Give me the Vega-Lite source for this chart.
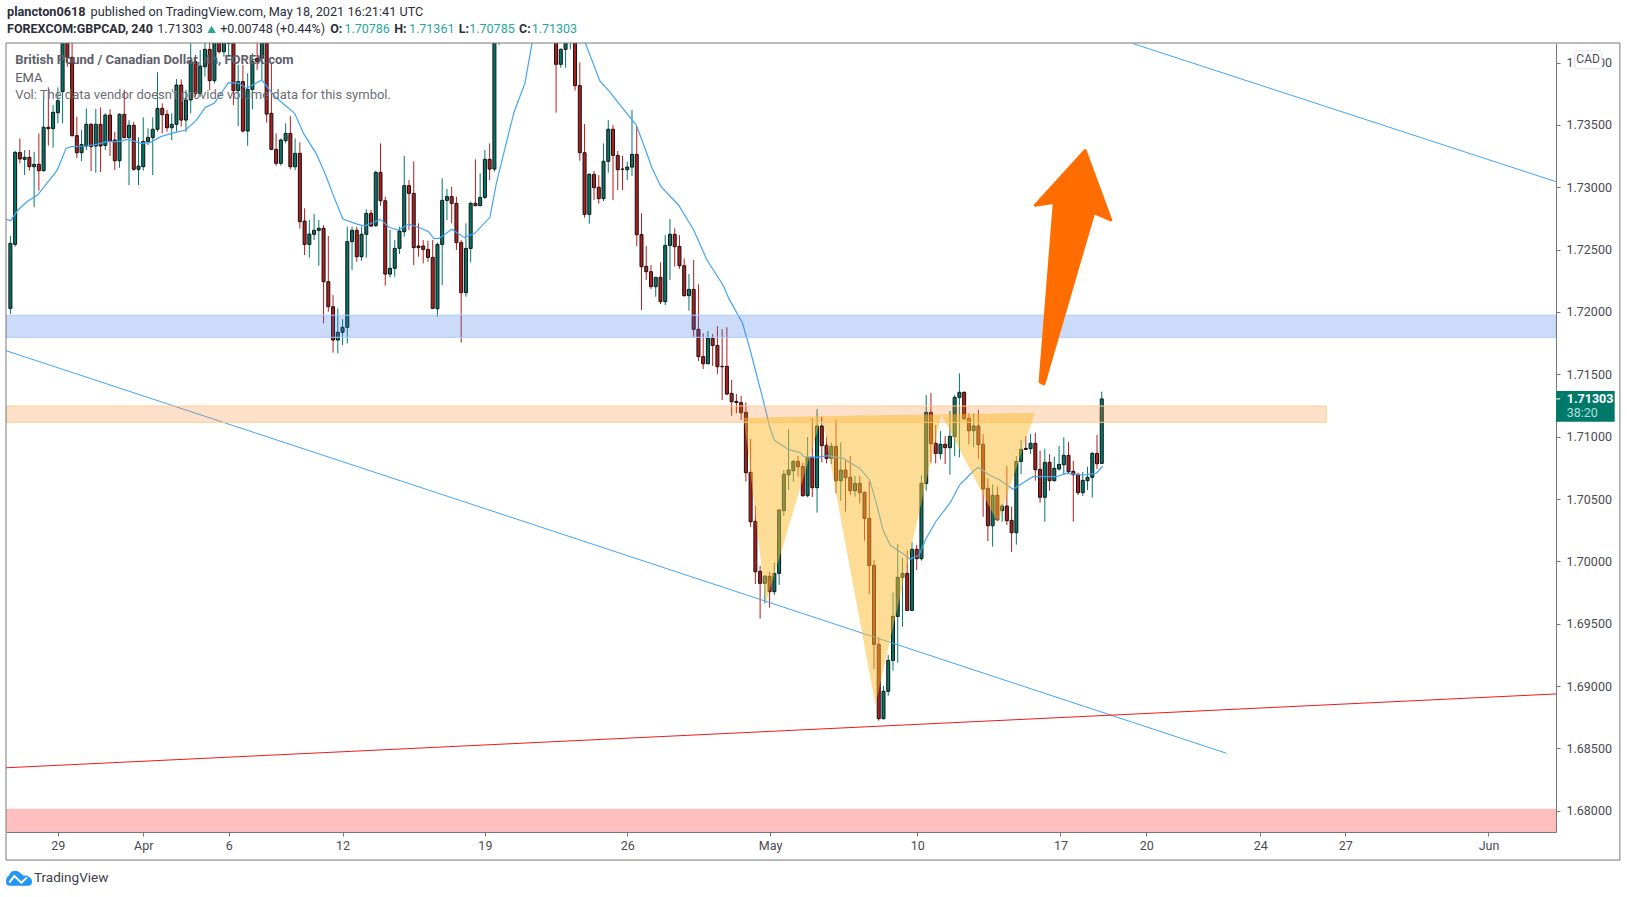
{"$schema":"https://vega.github.io/schema/vega-lite/v6.json","width":1550,"height":789,"autosize":{"type":"none"},"padding":{"left":6,"top":43,"right":71,"bottom":65},"background":"white","config":{"view":{"stroke":null},"text":{"font":"Roboto"}},
"datasets":{
"candles":[
{"t":0,"o":1.72029,"h":1.72609,"l":1.71984,"c":1.7255},{"t":1,"o":1.72542,"h":1.73293,"l":1.72524,"c":1.7328},{"t":2,"o":1.7328,"h":1.73392,"l":1.73192,"c":1.73227},{"t":3,"o":1.73224,"h":1.73299,"l":1.73098,"c":1.7324},{"t":4,"o":1.7324,"h":1.73299,"l":1.73133,"c":1.73165},{"t":5,"o":1.73165,"h":1.73285,"l":1.72839,"c":1.73184},{"t":6,"o":1.73184,"h":1.73432,"l":1.72973,"c":1.73133},{"t":7,"o":1.73133,"h":1.73713,"l":1.73125,"c":1.73481},{"t":8,"o":1.73481,"h":1.73801,"l":1.73334,"c":1.7347},{"t":9,"o":1.7347,"h":1.7366,"l":1.73317,"c":1.73601},
{"t":10,"o":1.73598,"h":1.73801,"l":1.73513,"c":1.73694},{"t":11,"o":1.73767,"h":1.7435,"l":1.73513,"c":1.7425},{"t":12,"o":1.7425,"h":1.744,"l":1.73967,"c":1.74042},{"t":13,"o":1.74042,"h":1.7425,"l":1.73406,"c":1.73414},{"t":14,"o":1.73414,"h":1.73566,"l":1.73235,"c":1.73277},{"t":15,"o":1.73277,"h":1.73459,"l":1.73211,"c":1.73342},{"t":16,"o":1.73331,"h":1.73633,"l":1.73299,"c":1.73505},{"t":17,"o":1.73505,"h":1.73513,"l":1.7313,"c":1.73326},{"t":18,"o":1.73331,"h":1.73628,"l":1.73117,"c":1.73505},{"t":19,"o":1.73505,"h":1.73641,"l":1.73122,"c":1.73331},
{"t":20,"o":1.73336,"h":1.73593,"l":1.73299,"c":1.73579},{"t":21,"o":1.73579,"h":1.73625,"l":1.73251,"c":1.73368},{"t":22,"o":1.73379,"h":1.73446,"l":1.73138,"c":1.73213},{"t":23,"o":1.73213,"h":1.73593,"l":1.73157,"c":1.73585},{"t":24,"o":1.73585,"h":1.7378,"l":1.73392,"c":1.73398},{"t":25,"o":1.73398,"h":1.73539,"l":1.73018,"c":1.73497},{"t":26,"o":1.73497,"h":1.73526,"l":1.73133,"c":1.73144},{"t":27,"o":1.73144,"h":1.734,"l":1.73018,"c":1.7317},{"t":28,"o":1.73165,"h":1.73561,"l":1.73133,"c":1.73368},{"t":29,"o":1.73368,"h":1.73473,"l":1.73339,"c":1.734},
{"t":30,"o":1.73398,"h":1.73561,"l":1.73098,"c":1.73465},{"t":31,"o":1.73465,"h":1.73922,"l":1.73446,"c":1.73633},{"t":32,"o":1.73633,"h":1.73673,"l":1.73432,"c":1.73582},{"t":33,"o":1.73585,"h":1.7362,"l":1.73446,"c":1.73478},{"t":34,"o":1.73478,"h":1.73593,"l":1.73379,"c":1.73505},{"t":35,"o":1.73505,"h":1.73868,"l":1.73446,"c":1.7382},{"t":36,"o":1.7382,"h":1.73865,"l":1.73486,"c":1.73539},{"t":37,"o":1.73539,"h":1.7378,"l":1.73446,"c":1.737},{"t":38,"o":1.737,"h":1.74154,"l":1.73593,"c":1.74007},{"t":39,"o":1.74007,"h":1.74061,"l":1.73726,"c":1.73753},
{"t":40,"o":1.73753,"h":1.74101,"l":1.73726,"c":1.73972},{"t":41,"o":1.73967,"h":1.742,"l":1.73887,"c":1.74106},{"t":42,"o":1.74106,"h":1.742,"l":1.7378,"c":1.73855},{"t":43,"o":1.73855,"h":1.743,"l":1.73833,"c":1.7423},{"t":44,"o":1.7423,"h":1.7432,"l":1.74074,"c":1.74087},{"t":45,"o":1.74087,"h":1.743,"l":1.74047,"c":1.7423},{"t":46,"o":1.74154,"h":1.743,"l":1.74047,"c":1.7423},{"t":47,"o":1.7423,"h":1.743,"l":1.7366,"c":1.73775},{"t":48,"o":1.73775,"h":1.7398,"l":1.73491,"c":1.73847},{"t":49,"o":1.73847,"h":1.7398,"l":1.73438,"c":1.73451},
{"t":50,"o":1.73451,"h":1.73914,"l":1.73334,"c":1.73785},{"t":51,"o":1.73785,"h":1.74074,"l":1.73625,"c":1.74007},{"t":52,"o":1.74034,"h":1.7416,"l":1.7394,"c":1.74007},{"t":53,"o":1.74034,"h":1.743,"l":1.7386,"c":1.7423},{"t":54,"o":1.7423,"h":1.743,"l":1.73518,"c":1.73587},{"t":55,"o":1.73593,"h":1.73994,"l":1.73299,"c":1.73304},{"t":56,"o":1.73304,"h":1.73432,"l":1.73173,"c":1.73192},{"t":57,"o":1.73192,"h":1.73392,"l":1.73173,"c":1.73379},{"t":58,"o":1.73374,"h":1.73513,"l":1.73352,"c":1.73432},{"t":59,"o":1.73432,"h":1.73571,"l":1.73144,"c":1.73165},
{"t":60,"o":1.73165,"h":1.73392,"l":1.73138,"c":1.73272},{"t":61,"o":1.73272,"h":1.7336,"l":1.72668,"c":1.72724},{"t":62,"o":1.72729,"h":1.72831,"l":1.72457,"c":1.72542},{"t":63,"o":1.72542,"h":1.72737,"l":1.72435,"c":1.72625},{"t":64,"o":1.72623,"h":1.72786,"l":1.72577,"c":1.72655},{"t":65,"o":1.72655,"h":1.72737,"l":1.72371,"c":1.72671},{"t":66,"o":1.72671,"h":1.72697,"l":1.71909,"c":1.72243},{"t":67,"o":1.72243,"h":1.72609,"l":1.72002,"c":1.72042},{"t":68,"o":1.72042,"h":1.72136,"l":1.71674,"c":1.71775},{"t":69,"o":1.71775,"h":1.72029,"l":1.71668,"c":1.71837},
{"t":70,"o":1.71837,"h":1.71941,"l":1.71735,"c":1.71877},{"t":71,"o":1.71877,"h":1.72684,"l":1.71748,"c":1.72564},{"t":72,"o":1.72564,"h":1.72684,"l":1.72337,"c":1.72655},{"t":73,"o":1.72655,"h":1.72684,"l":1.72403,"c":1.72443},{"t":74,"o":1.72443,"h":1.72684,"l":1.72411,"c":1.72623},{"t":75,"o":1.72623,"h":1.72823,"l":1.72435,"c":1.72791},{"t":76,"o":1.72791,"h":1.72818,"l":1.72679,"c":1.72689},{"t":77,"o":1.72692,"h":1.73133,"l":1.72684,"c":1.7312},{"t":78,"o":1.7312,"h":1.73352,"l":1.72852,"c":1.72892},{"t":79,"o":1.72892,"h":1.72925,"l":1.72211,"c":1.72304},
{"t":80,"o":1.72304,"h":1.72657,"l":1.72278,"c":1.7235},{"t":81,"o":1.7235,"h":1.72577,"l":1.72283,"c":1.7251},{"t":82,"o":1.7251,"h":1.72684,"l":1.72465,"c":1.72649},{"t":83,"o":1.72644,"h":1.73251,"l":1.72604,"c":1.73013},{"t":84,"o":1.73013,"h":1.73058,"l":1.72657,"c":1.72951},{"t":85,"o":1.72951,"h":1.73208,"l":1.72377,"c":1.72516},{"t":86,"o":1.72529,"h":1.72711,"l":1.72443,"c":1.72516},{"t":87,"o":1.72529,"h":1.72577,"l":1.7239,"c":1.72502},{"t":88,"o":1.72502,"h":1.72572,"l":1.72403,"c":1.72438},{"t":89,"o":1.72438,"h":1.72577,"l":1.72026,"c":1.72029},
{"t":90,"o":1.72026,"h":1.72555,"l":1.71962,"c":1.72542},{"t":91,"o":1.72542,"h":1.73072,"l":1.72216,"c":1.72895},{"t":92,"o":1.72895,"h":1.72986,"l":1.72737,"c":1.72925},{"t":93,"o":1.72925,"h":1.73005,"l":1.72711,"c":1.72871},{"t":94,"o":1.72871,"h":1.72925,"l":1.72497,"c":1.72556},{"t":95,"o":1.72556,"h":1.72577,"l":1.71754,"c":1.72155},{"t":96,"o":1.72155,"h":1.72711,"l":1.72123,"c":1.7251},{"t":97,"o":1.7251,"h":1.72884,"l":1.72398,"c":1.72871},{"t":98,"o":1.72871,"h":1.73224,"l":1.7285,"c":1.72852},{"t":99,"o":1.72852,"h":1.73112,"l":1.7285,"c":1.72919},
{"t":100,"o":1.72919,"h":1.73299,"l":1.72906,"c":1.73224},{"t":101,"o":1.73224,"h":1.73352,"l":1.73058,"c":1.73146},{"t":102,"o":1.73146,"h":1.746,"l":1.73125,"c":1.745},{"t":103,"o":1.745,"h":1.747,"l":1.74143,"c":1.7465},
{"t":115,"o":1.7425,"h":1.7435,"l":1.73598,"c":1.73986},{"t":116,"o":1.73986,"h":1.74114,"l":1.73959,"c":1.74106},{"t":117,"o":1.74106,"h":1.743,"l":1.73959,"c":1.7425},{"t":118,"o":1.742,"h":1.744,"l":1.74106,"c":1.7435},{"t":119,"o":1.743,"h":1.744,"l":1.73775,"c":1.73815},
{"t":120,"o":1.73815,"h":1.74002,"l":1.73213,"c":1.73277},{"t":121,"o":1.73277,"h":1.73507,"l":1.72756,"c":1.72783},{"t":122,"o":1.72783,"h":1.73112,"l":1.72708,"c":1.73104},{"t":123,"o":1.73104,"h":1.7313,"l":1.72898,"c":1.72997},{"t":124,"o":1.73,"h":1.73098,"l":1.72868,"c":1.72909},{"t":125,"o":1.72909,"h":1.73352,"l":1.7289,"c":1.73208},{"t":126,"o":1.73208,"h":1.73539,"l":1.73117,"c":1.73465},{"t":127,"o":1.73465,"h":1.73499,"l":1.72898,"c":1.73256},{"t":128,"o":1.73256,"h":1.73291,"l":1.72978,"c":1.73141},{"t":129,"o":1.73146,"h":1.73251,"l":1.72978,"c":1.73144},
{"t":130,"o":1.73141,"h":1.73205,"l":1.73058,"c":1.73162},{"t":131,"o":1.73162,"h":1.7362,"l":1.7309,"c":1.73264},{"t":132,"o":1.73264,"h":1.73491,"l":1.72529,"c":1.7262},{"t":133,"o":1.7262,"h":1.72791,"l":1.72016,"c":1.72363},{"t":134,"o":1.72366,"h":1.72529,"l":1.72256,"c":1.72323},{"t":135,"o":1.72323,"h":1.72377,"l":1.72184,"c":1.72203},{"t":136,"o":1.72203,"h":1.72278,"l":1.72123,"c":1.72278},{"t":137,"o":1.72278,"h":1.72398,"l":1.72064,"c":1.72083},{"t":138,"o":1.72083,"h":1.72617,"l":1.72056,"c":1.72534},{"t":139,"o":1.72534,"h":1.72745,"l":1.72256,"c":1.72623},
{"t":140,"o":1.72623,"h":1.72671,"l":1.72363,"c":1.72524},{"t":141,"o":1.72526,"h":1.72617,"l":1.72345,"c":1.72371},{"t":142,"o":1.72371,"h":1.7243,"l":1.72123,"c":1.72131},{"t":143,"o":1.72131,"h":1.72304,"l":1.7201,"c":1.72181},{"t":144,"o":1.72181,"h":1.72417,"l":1.71802,"c":1.71861},{"t":145,"o":1.71861,"h":1.72222,"l":1.71607,"c":1.71642},{"t":146,"o":1.71642,"h":1.71829,"l":1.71543,"c":1.71585},{"t":147,"o":1.71585,"h":1.71847,"l":1.71583,"c":1.71789},{"t":148,"o":1.71789,"h":1.71823,"l":1.71567,"c":1.71732},{"t":149,"o":1.71732,"h":1.71887,"l":1.71503,"c":1.71561},
{"t":150,"o":1.71564,"h":1.71863,"l":1.71294,"c":1.71561},{"t":151,"o":1.71564,"h":1.71877,"l":1.71334,"c":1.71342},{"t":152,"o":1.71347,"h":1.71454,"l":1.71168,"c":1.71281},{"t":153,"o":1.71283,"h":1.71342,"l":1.71187,"c":1.71273},{"t":154,"o":1.71273,"h":1.71326,"l":1.71134,"c":1.71192},{"t":155,"o":1.71195,"h":1.71275,"l":1.70639,"c":1.70711},{"t":156,"o":1.70714,"h":1.70981,"l":1.70278,"c":1.70318},{"t":157,"o":1.70321,"h":1.70444,"l":1.69819,"c":1.69917},{"t":158,"o":1.6992,"h":1.69966,"l":1.69541,"c":1.69824},{"t":159,"o":1.69824,"h":1.69883,"l":1.69663,"c":1.69883},
{"t":160,"o":1.6988,"h":1.69917,"l":1.69629,"c":1.69757},{"t":161,"o":1.69757,"h":1.69992,"l":1.6973,"c":1.69904},{"t":162,"o":1.69904,"h":1.70417,"l":1.69811,"c":1.70412},{"t":163,"o":1.70407,"h":1.70733,"l":1.70366,"c":1.70698},{"t":164,"o":1.70695,"h":1.71059,"l":1.70572,"c":1.70733},{"t":165,"o":1.70727,"h":1.70813,"l":1.70639,"c":1.70802},{"t":166,"o":1.70802,"h":1.70845,"l":1.70679,"c":1.70759},{"t":167,"o":1.70762,"h":1.70792,"l":1.70519,"c":1.70527},{"t":168,"o":1.70527,"h":1.70997,"l":1.70514,"c":1.70834},{"t":169,"o":1.70834,"h":1.71147,"l":1.70516,"c":1.70591},
{"t":170,"o":1.70591,"h":1.71222,"l":1.70391,"c":1.71086},{"t":171,"o":1.71086,"h":1.7116,"l":1.70794,"c":1.70928},{"t":172,"o":1.70931,"h":1.71,"l":1.70786,"c":1.70826},{"t":173,"o":1.70826,"h":1.70955,"l":1.70781,"c":1.70922},{"t":174,"o":1.70922,"h":1.71134,"l":1.70546,"c":1.70647},{"t":175,"o":1.70647,"h":1.70955,"l":1.70487,"c":1.70733},{"t":176,"o":1.70733,"h":1.70818,"l":1.70399,"c":1.70671},{"t":177,"o":1.70674,"h":1.70845,"l":1.70532,"c":1.70567},{"t":178,"o":1.70567,"h":1.70685,"l":1.70519,"c":1.70626},{"t":179,"o":1.70626,"h":1.70685,"l":1.70465,"c":1.70551},
{"t":180,"o":1.70554,"h":1.70559,"l":1.70166,"c":1.70345},{"t":181,"o":1.70345,"h":1.70639,"l":1.69738,"c":1.69966},{"t":182,"o":1.69968,"h":1.70011,"l":1.69137,"c":1.69335},{"t":183,"o":1.69335,"h":1.69391,"l":1.68723,"c":1.68739},{"t":184,"o":1.68739,"h":1.69001,"l":1.68733,"c":1.68958},{"t":185,"o":1.68958,"h":1.69249,"l":1.68923,"c":1.69206},{"t":186,"o":1.69206,"h":1.69752,"l":1.69124,"c":1.69559},{"t":187,"o":1.69559,"h":1.70139,"l":1.69188,"c":1.69872},{"t":188,"o":1.69872,"h":1.70027,"l":1.69476,"c":1.69904},{"t":189,"o":1.69904,"h":1.70088,"l":1.69605,"c":1.69607},
{"t":190,"o":1.69607,"h":1.70153,"l":1.69605,"c":1.70097},{"t":191,"o":1.70097,"h":1.70131,"l":1.69931,"c":1.70022},{"t":192,"o":1.70022,"h":1.7069,"l":1.70006,"c":1.70626},{"t":193,"o":1.70626,"h":1.71334,"l":1.70567,"c":1.71195},{"t":194,"o":1.71195,"h":1.7135,"l":1.70792,"c":1.70944},{"t":195,"o":1.70947,"h":1.71094,"l":1.70786,"c":1.70866},{"t":196,"o":1.70864,"h":1.71045,"l":1.70818,"c":1.70939},{"t":197,"o":1.70939,"h":1.71005,"l":1.70781,"c":1.70912},{"t":198,"o":1.70912,"h":1.71206,"l":1.70695,"c":1.71003},{"t":199,"o":1.71,"h":1.71334,"l":1.70845,"c":1.71315},
{"t":200,"o":1.71315,"h":1.71508,"l":1.70834,"c":1.71356},{"t":201,"o":1.71356,"h":1.71361,"l":1.71134,"c":1.71144},{"t":202,"o":1.71147,"h":1.71187,"l":1.70941,"c":1.71048},{"t":203,"o":1.71048,"h":1.71187,"l":1.70914,"c":1.71086},{"t":204,"o":1.71086,"h":1.71214,"l":1.70824,"c":1.70936},{"t":205,"o":1.70939,"h":1.71021,"l":1.70358,"c":1.7058},{"t":206,"o":1.70586,"h":1.70666,"l":1.70163,"c":1.70286},{"t":207,"o":1.70286,"h":1.70618,"l":1.70118,"c":1.7053},{"t":208,"o":1.7053,"h":1.70599,"l":1.70326,"c":1.70332},{"t":209,"o":1.70407,"h":1.7046,"l":1.70318,"c":1.70444},
{"t":210,"o":1.70444,"h":1.70765,"l":1.70292,"c":1.70326},{"t":211,"o":1.70329,"h":1.70439,"l":1.70075,"c":1.7023},{"t":212,"o":1.7023,"h":1.70845,"l":1.70134,"c":1.70802},{"t":213,"o":1.70802,"h":1.70973,"l":1.70701,"c":1.70898},{"t":214,"o":1.70906,"h":1.71005,"l":1.70898,"c":1.70898},{"t":215,"o":1.70904,"h":1.71021,"l":1.70861,"c":1.70947},{"t":216,"o":1.70947,"h":1.71032,"l":1.70647,"c":1.70735},{"t":217,"o":1.70738,"h":1.70888,"l":1.70471,"c":1.70514},{"t":218,"o":1.70514,"h":1.70904,"l":1.70318,"c":1.70794},{"t":219,"o":1.70794,"h":1.70861,"l":1.70567,"c":1.70647},
{"t":220,"o":1.70647,"h":1.7084,"l":1.70642,"c":1.70746},{"t":221,"o":1.70741,"h":1.70925,"l":1.70727,"c":1.70778},{"t":222,"o":1.70775,"h":1.70995,"l":1.70693,"c":1.7085},{"t":223,"o":1.7085,"h":1.70957,"l":1.70706,"c":1.70719},{"t":224,"o":1.70722,"h":1.70805,"l":1.70318,"c":1.70695},{"t":225,"o":1.70698,"h":1.70711,"l":1.70532,"c":1.70551},{"t":226,"o":1.70551,"h":1.70717,"l":1.70524,"c":1.7065},{"t":227,"o":1.70647,"h":1.70759,"l":1.70572,"c":1.70674},{"t":228,"o":1.70674,"h":1.7088,"l":1.70511,"c":1.70866},{"t":229,"o":1.70866,"h":1.71013,"l":1.70741,"c":1.70783},{"t":230,"o":1.70786,"h":1.71361,"l":1.70785,"c":1.71303}
],
"ema":[
{"t":-0.83,"p":1.72743},{"t":0.08,"p":1.72732},{"t":1.58,"p":1.72818},{"t":3.46,"p":1.72884},{"t":5.72,"p":1.72938},{"t":7.98,"p":1.73045},{"t":9.86,"p":1.73138},{"t":11.74,"p":1.73312},{"t":12.87,"p":1.73326},{"t":15.88,"p":1.73331},{"t":18.13,"p":1.73344},{"t":20.39,"p":1.73366},{"t":22.65,"p":1.73366},{"t":24.9,"p":1.73384},{"t":27.54,"p":1.73352},{"t":29.42,"p":1.73358},{"t":31.68,"p":1.73406},{"t":33.94,"p":1.73432},{"t":36.95,"p":1.73459},{"t":39.2,"p":1.73539},{"t":41.08,"p":1.73641},{"t":42.96,"p":1.73673},{"t":45.97,"p":1.73839},{"t":48.23,"p":1.73833},{"t":49.74,"p":1.73793},{"t":52.97,"p":1.7386},{"t":55.76,"p":1.73726},{"t":59.9,"p":1.73593},{"t":61.78,"p":1.73432},{"t":64.41,"p":1.73272},{"t":66.29,"p":1.73112},{"t":68.17,"p":1.72925},{"t":70.05,"p":1.72745},{"t":73.06,"p":1.72705},{"t":74.57,"p":1.72689},{"t":76.82,"p":1.72724},{"t":77.95,"p":1.72743},{"t":79.83,"p":1.72679},{"t":81.72,"p":1.72657},{"t":83.97,"p":1.72705},{"t":86.23,"p":1.72676},{"t":88.11,"p":1.72644},{"t":89.24,"p":1.72588},{"t":90.37,"p":1.7259},{"t":93,"p":1.72663},{"t":95.64,"p":1.72598},{"t":97.89,"p":1.72631},{"t":101.05,"p":1.72759},{"t":102.41,"p":1.73031},{"t":104.66,"p":1.73379},{"t":106.17,"p":1.73606},{"t":108.43,"p":1.73833},{"t":109.93,"p":1.74154},{"t":113,"p":1.747},{"t":118,"p":1.747},{"t":121.2,"p":1.74154},{"t":124.2,"p":1.73855},{"t":126.1,"p":1.73775},{"t":130.2,"p":1.73579},{"t":131.9,"p":1.73499},{"t":134,"p":1.73285},{"t":135.1,"p":1.73165},{"t":137.1,"p":1.73005},{"t":140.8,"p":1.72858},{"t":144,"p":1.72657},{"t":146.8,"p":1.72417},{"t":150.3,"p":1.72208},{"t":151.4,"p":1.72109},{"t":154.3,"p":1.71909},{"t":155.9,"p":1.71695},{"t":159,"p":1.71241},{"t":160,"p":1.7108},{"t":161,"p":1.70973},{"t":163.9,"p":1.70898},{"t":166.4,"p":1.70872},{"t":167.2,"p":1.7084},{"t":169.9,"p":1.70834},{"t":172.3,"p":1.70848},{"t":175.5,"p":1.70826},{"t":179,"p":1.70746},{"t":181.1,"p":1.70653},{"t":182.5,"p":1.70465},{"t":183.9,"p":1.70252},{"t":185.4,"p":1.70131},{"t":188.2,"p":1.70059},{"t":189.6,"p":1.70019},{"t":191.5,"p":1.70051},{"t":193,"p":1.70185},{"t":195,"p":1.70318},{"t":198.2,"p":1.70479},{"t":200,"p":1.70612},{"t":202.8,"p":1.70719},{"t":204,"p":1.70754},{"t":206.3,"p":1.70693},{"t":208.5,"p":1.70653},{"t":211.3,"p":1.70578},{"t":212.7,"p":1.70612},{"t":215.5,"p":1.70679},{"t":216.6,"p":1.70679},{"t":220.4,"p":1.70679},{"t":222.5,"p":1.70706},{"t":226,"p":1.70693},{"t":228.8,"p":1.70706},{"t":230.2,"p":1.70765}
],
"zones":[{"name":"blue","t1":-0.927,"t2":325.73,"p1":1.71974,"p2":1.71797},{"name":"orange","t1":-0.927,"t2":277.3,"p1":1.71246,"p2":1.71115},{"name":"pink","t1":-0.927,"t2":325.73,"p1":1.68012,"p2":1.6783}],
"blueLines":[{"line":"upper","t":236.6,"p":1.74152},{"line":"upper","t":325.73,"p":1.73045},{"line":"lower","t":-0.93,"p":1.7169},{"line":"lower","t":256.3,"p":1.68461}],
"redLine":[{"t":-0.93,"p":1.68345},{"t":325.73,"p":1.68937}],
"pattern":[{"t":154.6,"low":1.71152,"neck":1.71152},{"t":159.2,"low":1.69666,"neck":1.71155},{"t":171,"low":1.71163,"neck":1.71163},{"t":182.3,"low":1.68848,"neck":1.71171},{"t":196.2,"low":1.71178,"neck":1.71178},{"t":208.1,"low":1.70308,"neck":1.71186},{"t":215.9,"low":1.71192,"neck":1.71192}],
"arrow":[{"n":1,"t":226.5,"p":1.73295},{"n":2,"t":231.9,"p":1.72738},{"n":3,"t":228.3,"p":1.72796},{"n":4,"t":217.8,"p":1.71423},{"n":5,"t":217,"p":1.71439},{"n":6,"t":220,"p":1.7288},{"n":7,"t":216,"p":1.72855}]
},
"layer":[
{"data":{"name":"candles"},"mark":{"type":"rule","strokeWidth":1,"clip":true},
"encoding":{"x":{"field":"t","type":"quantitative","title":null,"scale":{"domain":[-0.927,325.73],"nice":false,"zero":false,"padding":0},"axis":{"values":[10,28,46,70,100,130,160.1,191.1,221.3,239.4,263.4,281.3,311.5],"labelExpr":"{'10':'29','28':'Apr','46':'6','70':'12','100':'19','130':'26','160.1':'May','191.1':'10','221.3':'17','239.4':'20','263.4':'24','281.3':'27','311.5':'Jun'}[datum.value]","grid":false,"domainColor":"#787878","tickColor":"#787878","tickSize":4,"labelPadding":3,"labelColor":"#4a4a52","labelFont":"Roboto","labelFontSize":12.5,"labelOverlap":false,"labelFlush":false}},
"y":{"field":"h","type":"quantitative","title":null,"scale":{"domain":[1.6783,1.74157],"nice":false,"zero":false},"axis":{"orient":"right","values":[1.68,1.685,1.69,1.695,1.7,1.705,1.71,1.715,1.72,1.725,1.73,1.735,1.74],"format":".5f","grid":false,"domainColor":"#787878","tickColor":"#787878","tickSize":4,"labelPadding":6,"labelColor":"#4a4a52","labelFont":"Roboto","labelFontSize":12.5,"labelOverlap":false,"labelFlush":false}},
"y2":{"field":"l"},"color":{"condition":{"test":"datum.c>=datum.o","value":"#00796b"},"value":"#b71c1c"}}},
{"data":{"name":"candles"},"mark":{"type":"bar","width":3,"orient":"vertical","stroke":"#111111","strokeWidth":1,"clip":true},
"encoding":{"x":{"field":"t","type":"quantitative"},"y":{"field":"o","type":"quantitative"},"y2":{"field":"c"},"fill":{"condition":{"test":"datum.c>=datum.o","value":"#00796b"},"value":"#b71c1c"}}},
{"data":{"name":"ema"},"mark":{"type":"line","color":"#42a5f5","strokeWidth":1.2,"clip":true},"encoding":{"x":{"field":"t","type":"quantitative"},"y":{"field":"p","type":"quantitative"}}},
{"data":{"name":"blueLines"},"mark":{"type":"line","color":"#42a5f5","strokeWidth":1,"clip":true},"encoding":{"x":{"field":"t","type":"quantitative"},"y":{"field":"p","type":"quantitative"},"detail":{"field":"line"}}},
{"data":{"name":"redLine"},"mark":{"type":"line","color":"#f01818","strokeWidth":1,"clip":true},"encoding":{"x":{"field":"t","type":"quantitative"},"y":{"field":"p","type":"quantitative"}}},
{"data":{"name":"zones"},"mark":{"type":"rect","fillOpacity":0.25,"strokeWidth":1,"clip":true},"encoding":{"x":{"field":"t1","type":"quantitative"},"x2":{"field":"t2"},"y":{"field":"p1","type":"quantitative"},"y2":{"field":"p2"},"fill":{"field":"name","type":"nominal","legend":null,"scale":{"domain":["blue","orange","pink"],"range":["#3373e3","#f28426","#ff0000"]}},"stroke":{"field":"name","type":"nominal","legend":null,"scale":{"domain":["blue","orange","pink"],"range":["#a8c9f8","#fdcf94","#ffb9b9"]}}}},
{"data":{"name":"pattern"},"mark":{"type":"area","color":"#fbbb2d","opacity":0.5,"clip":true},"encoding":{"x":{"field":"t","type":"quantitative"},"y":{"field":"low","type":"quantitative"},"y2":{"field":"neck"}}},
{"data":{"name":"arrow"},"mark":{"type":"line","fill":"#ff6d00","stroke":"#ff6d00","strokeWidth":3,"strokeJoin":"round","interpolate":"linear-closed"},"encoding":{"x":{"field":"t","type":"quantitative"},"y":{"field":"p","type":"quantitative"},"order":{"field":"n","type":"quantitative"}}},
{"data":{"values":[{"label":"frame"}]},"mark":{"type":"rect","fillOpacity":0,"stroke":"#787878","strokeWidth":1},"encoding":{"x":{"datum":-0.927,"type":"quantitative"},"x2":{"datum":339.2},"y":{"datum":1.74157,"type":"quantitative"},"y2":{"datum":1.67605}}},
{"data":{"values":[{"label":"badge"}]},"mark":{"type":"rect","fill":"#00796b"},"encoding":{"x":{"datum":325.75,"type":"quantitative"},"x2":{"datum":338.1},"y":{"datum":1.71366,"type":"quantitative"},"y2":{"datum":1.7112}}},
{"data":{"values":[{"label":"tag"}]},"mark":{"type":"rule","color":"#ffffff","strokeWidth":1},"encoding":{"x":{"datum":325.75,"type":"quantitative"},"x2":{"datum":326.6},"y":{"datum":1.71303,"type":"quantitative"}}},
{"data":{"values":[{"label":"1.71303"}]},"mark":{"type":"text","align":"left","baseline":"middle","font":"Roboto","fontSize":12.5,"fontWeight":"bold","color":"#ffffff"},"encoding":{"x":{"datum":328,"type":"quantitative"},"y":{"datum":1.713,"type":"quantitative"},"text":{"field":"label"}}},
{"data":{"values":[{"label":"38:20"}]},"mark":{"type":"text","align":"left","baseline":"middle","font":"Roboto","fontSize":12.5,"color":"#b2dfdb"},"encoding":{"x":{"datum":328,"type":"quantitative"},"y":{"datum":1.71188,"type":"quantitative"},"text":{"field":"label"}}},
{"data":{"values":[{"label":"cadbox"}]},"mark":{"type":"rect","fill":"#ffffff","stroke":"#e0e3eb","strokeWidth":1,"cornerRadius":3},"encoding":{"x":{"datum":329.6,"type":"quantitative"},"x2":{"datum":335.4},"y":{"datum":1.74095,"type":"quantitative"},"y2":{"datum":1.73951}}},
{"data":{"values":[{"label":"CAD"}]},"mark":{"type":"text","align":"center","baseline":"middle","font":"Roboto","fontSize":12,"color":"#4a4a52"},"encoding":{"x":{"datum":332.5,"type":"quantitative"},"y":{"datum":1.74025,"type":"quantitative"},"text":{"field":"label"}}},
{"data":{"values":[{"label":"plancton0618"}]},"mark":{"type":"text","align":"left","baseline":"middle","font":"Roboto","fontSize":12.7,"fontWeight":"bold","color":"#2a2e39"},"encoding":{"x":{"datum":-0.7,"type":"quantitative"},"y":{"datum":1.74403,"type":"quantitative"},"text":{"field":"label"}}},
{"data":{"values":[{"label":"published on TradingView.com, May 18, 2021 16:21:41 UTC"}]},"mark":{"type":"text","align":"left","baseline":"middle","font":"Roboto","fontSize":12.7,"color":"#2a2e39"},"encoding":{"x":{"datum":16.9,"type":"quantitative"},"y":{"datum":1.74403,"type":"quantitative"},"text":{"field":"label"}}},
{"data":{"values":[{"label":"FOREXCOM:GBPCAD, 240"}]},"mark":{"type":"text","align":"left","baseline":"middle","font":"Roboto","fontSize":12.5,"fontWeight":"bold","color":"#2a2e39"},"encoding":{"x":{"datum":-0.7,"type":"quantitative"},"y":{"datum":1.74267,"type":"quantitative"},"text":{"field":"label"}}},
{"data":{"values":[{"label":"1.71303"}]},"mark":{"type":"text","align":"left","baseline":"middle","font":"Roboto","fontSize":12.5,"color":"#2a2e39"},"encoding":{"x":{"datum":30.96,"type":"quantitative"},"y":{"datum":1.74267,"type":"quantitative"},"text":{"field":"label"}}},
{"data":{"values":[{"label":"up"}]},"mark":{"type":"point","shape":"triangle-up","filled":true,"size":70,"color":"#26a69a","opacity":1},"encoding":{"x":{"datum":42.4,"type":"quantitative"},"y":{"datum":1.74267,"type":"quantitative"}}},
{"data":{"values":[{"label":"+0.00748 (+0.44%)"}]},"mark":{"type":"text","align":"left","baseline":"middle","font":"Roboto","fontSize":12.5,"color":"#2a2e39"},"encoding":{"x":{"datum":44.2,"type":"quantitative"},"y":{"datum":1.74267,"type":"quantitative"},"text":{"field":"label"}}},
{"data":{"values":[{"label":"O:"}]},"mark":{"type":"text","align":"left","baseline":"middle","font":"Roboto","fontSize":12.5,"fontWeight":"bold","color":"#2a2e39"},"encoding":{"x":{"datum":67.4,"type":"quantitative"},"y":{"datum":1.74267,"type":"quantitative"},"text":{"field":"label"}}},
{"data":{"values":[{"label":"1.70786"}]},"mark":{"type":"text","align":"left","baseline":"middle","font":"Roboto","fontSize":12.5,"color":"#26a69a"},"encoding":{"x":{"datum":70.4,"type":"quantitative"},"y":{"datum":1.74267,"type":"quantitative"},"text":{"field":"label"}}},
{"data":{"values":[{"label":"H:"}]},"mark":{"type":"text","align":"left","baseline":"middle","font":"Roboto","fontSize":12.5,"fontWeight":"bold","color":"#2a2e39"},"encoding":{"x":{"datum":80.9,"type":"quantitative"},"y":{"datum":1.74267,"type":"quantitative"},"text":{"field":"label"}}},
{"data":{"values":[{"label":"1.71361"}]},"mark":{"type":"text","align":"left","baseline":"middle","font":"Roboto","fontSize":12.5,"color":"#26a69a"},"encoding":{"x":{"datum":84,"type":"quantitative"},"y":{"datum":1.74267,"type":"quantitative"},"text":{"field":"label"}}},
{"data":{"values":[{"label":"L:"}]},"mark":{"type":"text","align":"left","baseline":"middle","font":"Roboto","fontSize":12.5,"fontWeight":"bold","color":"#2a2e39"},"encoding":{"x":{"datum":94.5,"type":"quantitative"},"y":{"datum":1.74267,"type":"quantitative"},"text":{"field":"label"}}},
{"data":{"values":[{"label":"1.70785"}]},"mark":{"type":"text","align":"left","baseline":"middle","font":"Roboto","fontSize":12.5,"color":"#26a69a"},"encoding":{"x":{"datum":96.7,"type":"quantitative"},"y":{"datum":1.74267,"type":"quantitative"},"text":{"field":"label"}}},
{"data":{"values":[{"label":"C:"}]},"mark":{"type":"text","align":"left","baseline":"middle","font":"Roboto","fontSize":12.5,"fontWeight":"bold","color":"#2a2e39"},"encoding":{"x":{"datum":107.2,"type":"quantitative"},"y":{"datum":1.74267,"type":"quantitative"},"text":{"field":"label"}}},
{"data":{"values":[{"label":"1.71303"}]},"mark":{"type":"text","align":"left","baseline":"middle","font":"Roboto","fontSize":12.5,"color":"#26a69a"},"encoding":{"x":{"datum":109.85,"type":"quantitative"},"y":{"datum":1.74267,"type":"quantitative"},"text":{"field":"label"}}},
{"data":{"values":[{"label":"British Pound / Canadian Dollar, 4h, FOREX.com"}]},"mark":{"type":"text","align":"left","baseline":"middle","font":"Roboto","fontSize":13,"fontWeight":"bold","color":"#5d606b"},"encoding":{"x":{"datum":1,"type":"quantitative"},"y":{"datum":1.74021,"type":"quantitative"},"text":{"field":"label"}}},
{"data":{"values":[{"label":"EMA"}]},"mark":{"type":"text","align":"left","baseline":"middle","font":"Roboto","fontSize":13,"color":"#5d606b"},"encoding":{"x":{"datum":1,"type":"quantitative"},"y":{"datum":1.73879,"type":"quantitative"},"text":{"field":"label"}}},
{"data":{"values":[{"label":"Vol: The data vendor doesn't provide volume data for this symbol."}]},"mark":{"type":"text","align":"left","baseline":"middle","font":"Roboto","fontSize":13,"color":"#6b6e78"},"encoding":{"x":{"datum":1,"type":"quantitative"},"y":{"datum":1.73744,"type":"quantitative"},"text":{"field":"label"}}},
{"data":{"values":[{"label":"logo"}]},"mark":{"type":"point","filled":true,"color":"#2196f3","opacity":1,"size":676,"shape":"M-1,0.28 C-1,0.5 -0.9,0.59 -0.72,0.59 L0.72,0.59 C0.9,0.59 1,0.48 1,0.28 C1,0.08 0.9,-0.05 0.75,-0.08 C0.65,-0.2 0.5,-0.22 0.38,-0.16 L0.05,-0.42 C-0.1,-0.56 -0.35,-0.62 -0.54,-0.5 C-0.65,-0.42 -0.72,-0.3 -0.79,-0.18 C-0.92,-0.12 -1,0.05 -1,0.28 Z"},"encoding":{"x":{"datum":1.81,"type":"quantitative"},"y":{"datum":1.67461,"type":"quantitative"}}},
{"data":{"values":[{"label":"logoline"}]},"mark":{"type":"point","filled":false,"stroke":"#ffffff","strokeWidth":2,"opacity":1,"size":676,"shape":"M-0.74,0.36 L-0.36,-0.15 L0.18,0.36 L0.62,-0.05"},"encoding":{"x":{"datum":1.81,"type":"quantitative"},"y":{"datum":1.67461,"type":"quantitative"}}},
{"data":{"values":[{"label":"TradingView"}]},"mark":{"type":"text","align":"left","baseline":"middle","font":"Roboto","fontSize":13.5,"color":"#3c4048"},"encoding":{"x":{"datum":4.97,"type":"quantitative"},"y":{"datum":1.67461,"type":"quantitative"},"text":{"field":"label"}}}
]}
